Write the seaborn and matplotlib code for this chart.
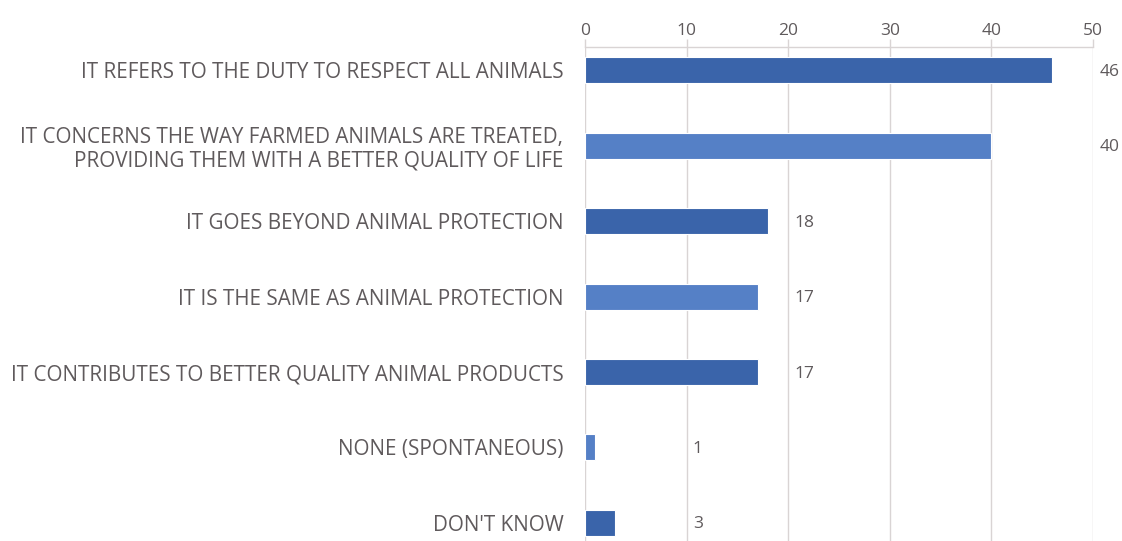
import matplotlib.pyplot as plt
import pandas as pd
import seaborn as sns

# ── Data ──────────────────────────────────────────────────────────────────────
categories = [
    "IT REFERS TO THE DUTY TO RESPECT ALL ANIMALS",
    "IT CONCERNS THE WAY FARMED ANIMALS ARE TREATED,\nPROVIDING THEM WITH A BETTER QUALITY OF LIFE",
    "IT GOES BEYOND ANIMAL PROTECTION",
    "IT IS THE SAME AS ANIMAL PROTECTION",
    "IT CONTRIBUTES TO BETTER QUALITY ANIMAL PRODUCTS",
    "NONE (SPONTANEOUS)",
    "DON'T KNOW",
]
values = [46, 40, 18, 17, 17, 1, 3]
x_ticks = [0, 10, 20, 30, 40, 50]

DARK = "#3A64AA"
LIGHT = "#5580C6"
TEXT = "#5F5A5C"
GRID = "#D9D4D4"

df = pd.DataFrame({"label": categories, "value": values})
palette = {c: (DARK if i % 2 == 0 else LIGHT) for i, c in enumerate(categories)}

# ── Plot ──────────────────────────────────────────────────────────────────────
sns.set_style("white")
plt.rcParams["font.family"] = ["Open Sans", "DejaVu Sans"]

fig = plt.figure(figsize=(11.22, 5.41), dpi=100)
ax = fig.add_axes([0.5214, 0.0, 0.4528, 0.9131])

sns.barplot(data=df, x="value", y="label", hue="label", palette=palette,
            orient="h", width=0.345, legend=False, ax=ax, saturation=1,
            edgecolor="white", linewidth=0.8, zorder=3)

ax.set_xlim(0, 50)
ax.set_ylim(6.24, -0.31)
ax.set_xticks(x_ticks)
ax.xaxis.tick_top()
ax.tick_params(axis="x", top=True, bottom=False, direction="out", length=6,
               width=1, color=GRID, labelsize=12.5, labelcolor=TEXT, pad=0)
ax.tick_params(axis="y", left=False, labelsize=14.9, labelcolor=TEXT, pad=12)
ax.grid(axis="x", color=GRID, linewidth=1, zorder=0)
ax.set_xlabel("")
ax.set_ylabel("")
for side in ["left", "right", "bottom"]:
    ax.spines[side].set_visible(False)
ax.spines["top"].set_color(GRID)
ax.spines["top"].set_linewidth(1)

for lbl in ax.get_yticklabels():
    lbl.set_linespacing(1.15)

# data labels sit just past the next gridline, as in the original
for i, v in enumerate(values):
    ax.text((v // 10 + 1) * 10 + 0.6, i + 0.02, str(v), va="center", ha="left",
            fontsize=12.5, color=TEXT, clip_on=False)

plt.savefig("out.png", dpi=100)
plt.close()
